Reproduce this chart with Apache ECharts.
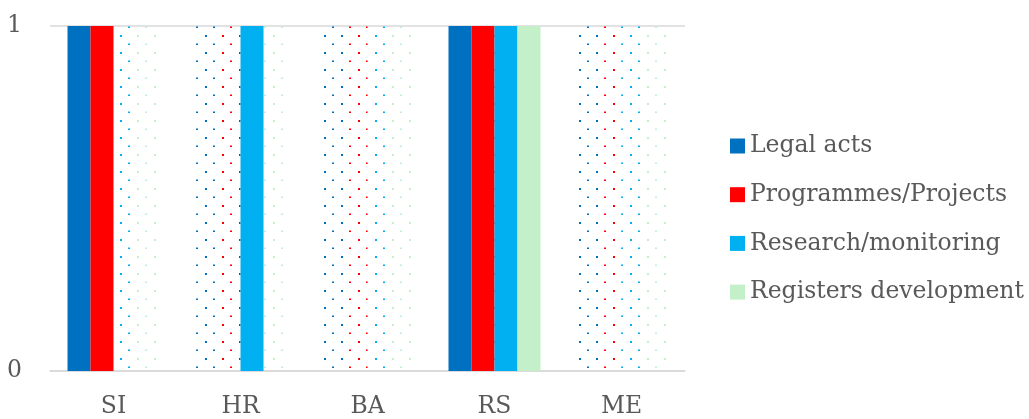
<!DOCTYPE html>
<html>
<head>
<meta charset="utf-8">
<script src="https://cdn.jsdelivr.net/npm/echarts@6/dist/echarts.min.js"></script>
<style>
  html, body { margin: 0; padding: 0; background: #fff; }
  #chart { width: 1029px; height: 419px; }
</style>
</head>
<body>
<div id="chart"></div>
<script>
// Countries and whether each type of measure is in place (1 = yes, 0 = no)
const categories = ['SI', 'HR', 'BA', 'RS', 'ME'];
const legalActs = [1, 0, 0, 1, 0];
const programmesProjects = [1, 0, 0, 1, 0];
const researchMonitoring = [0, 1, 0, 1, 0];
const registersDevelopment = [0, 0, 0, 1, 0];
const yTicks = [0, 1];

const colors = ['#0070C0', '#FF0000', '#00B0F0', '#C3F0C8'];
const FONT = '"DejaVu Serif", serif';

// Dotted tile used behind each bar to mark the "no" state over the full height
function dotPattern(color) {
  const c = document.createElement('canvas');
  c.width = 17; c.height = 17;
  const ctx = c.getContext('2d');
  ctx.fillStyle = color;
  ctx.fillRect(1, 1, 2, 2);
  ctx.fillRect(9, 9.5, 2, 1.5);
  return { image: c, repeat: 'repeat' };
}

const names = ['Legal acts', 'Programmes/Projects', 'Research/monitoring', 'Registers development'];
const values = [legalActs, programmesProjects, researchMonitoring, registersDevelopment];

const series = names.map((name, i) => ({
  name: name,
  type: 'bar',
  data: values[i],
  barWidth: 23,
  barGap: '0%',
  itemStyle: { color: colors[i] },
  showBackground: true,
  backgroundStyle: { color: dotPattern(colors[i]) },
  emphasis: { disabled: true }
}));

const chart = echarts.init(document.getElementById('chart'), null, { renderer: 'canvas' });
chart.setOption({
  animation: false,
  color: colors,
  grid: { left: 50, right: 344, top: 26, bottom: 48 },
  legend: {
    orient: 'vertical',
    left: 725,
    top: 127,
    icon: 'rect',
    itemWidth: 15,
    itemHeight: 15,
    itemGap: 20.7,
    textStyle: { fontFamily: FONT, fontSize: 23.5, lineHeight: 28, color: '#595959' },
    data: names
  },
  xAxis: {
    type: 'category',
    data: categories,
    axisLine: { lineStyle: { color: '#D9D9D9', width: 1.5 } },
    axisTick: { show: false },
    axisLabel: { fontFamily: FONT, fontSize: 23.5, color: '#595959', margin: 24 }
  },
  yAxis: {
    type: 'value',
    min: yTicks[0],
    max: yTicks[yTicks.length - 1],
    interval: 1,
    axisLine: { show: false },
    axisTick: { show: false },
    splitLine: { lineStyle: { color: '#D9D9D9', width: 1.5 } },
    axisLabel: { fontFamily: FONT, fontSize: 23.5, color: '#595959', margin: 28 }
  },
  series: series
});
</script>
</body>
</html>
